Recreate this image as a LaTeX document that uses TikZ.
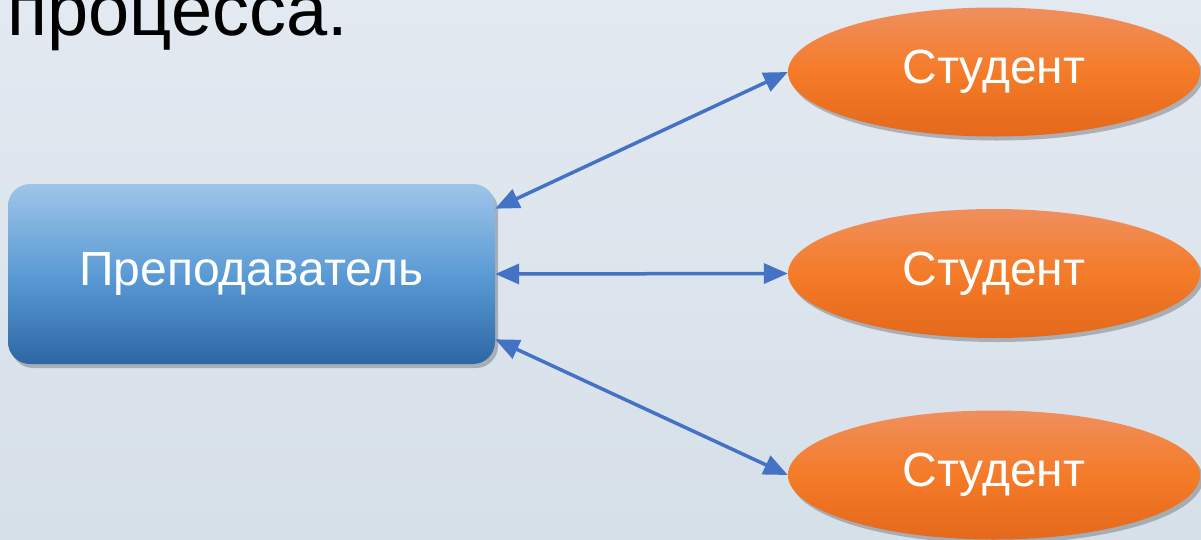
\documentclass[tikz,border=0pt]{standalone}
\usepackage{fontspec}
\setmainfont{Liberation Sans}
\usetikzlibrary{arrows.meta,shapes.geometric,shadows}
\definecolor{bgtop}{HTML}{E3E9F1}
\definecolor{bgbot}{HTML}{D6E0E9}
\definecolor{rtop}{HTML}{9FC5E8}
\definecolor{rmid}{HTML}{5B9BD5}
\definecolor{rbot}{HTML}{2C67A4}
\definecolor{etop}{HTML}{F08F5E}
\definecolor{emid}{HTML}{F47B28}
\definecolor{ebot}{HTML}{E4691C}
\definecolor{arrowblue}{HTML}{4472C4}
\tikzset{
  teacherbox/.style={rectangle, rounded corners=22pt, minimum width=487pt, minimum height=180pt,
    inner sep=0pt, top color=rtop, bottom color=rbot, middle color=rmid, text=white,
    font=\fontsize{48}{48}\selectfont,
    drop shadow={shadow xshift=3pt, shadow yshift=-4pt, opacity=0.35, fill=black!70}},
  studentell/.style={ellipse, minimum width=412pt, minimum height=129pt, inner sep=0pt,
    top color=etop, bottom color=ebot, middle color=emid, text=white,
    font=\fontsize{48}{48}\selectfont,
    drop shadow={shadow xshift=3pt, shadow yshift=-4pt, opacity=0.35, fill=black!70}},
  link/.style={draw=arrowblue, line width=3.5pt,
    {Triangle[length=24pt,width=20pt]}-{Triangle[length=24pt,width=20pt]}},
  titletext/.style={anchor=base west, inner sep=0pt, font=\fontsize{74}{74}\selectfont}
}
\begin{document}
\begin{tikzpicture}[x=1pt,y=-1pt]
\useasboundingbox (0,0) rectangle (1201,539);
\shade[top color=bgtop, bottom color=bgbot] (0,0) rectangle (1201,539);
\node[titletext] (title) at (7,35) {процесса.};
\node[teacherbox] (t) at (251.5,274) {Преподаватель};
\node[studentell] (s1) at (994,72) {Студент};
\node[studentell] (s2) at (994,273.5) {Студент};
\node[studentell] (s3) at (994,475) {Студент};
\draw[link] (t.15) -- (s1.west);
\draw[link] (t.east) -- (s2.west);
\draw[link] (t.-15) -- (s3.west);
\end{tikzpicture}
\end{document}
